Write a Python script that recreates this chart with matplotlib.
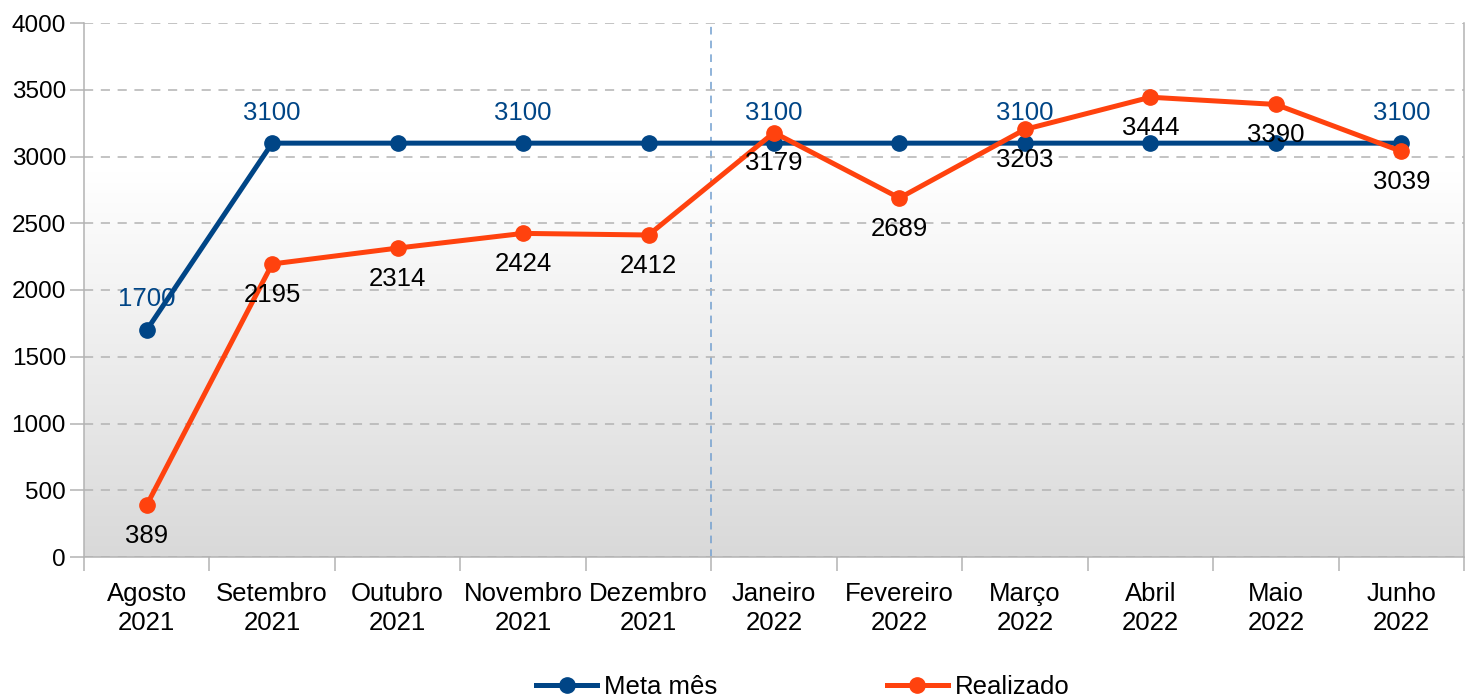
import numpy as np
import matplotlib
matplotlib.use('Agg')
import matplotlib.pyplot as plt
from matplotlib.colors import LinearSegmentedColormap

plt.rcParams['font.family'] = ['Liberation Sans', 'DejaVu Sans']

# Data
months = ['Agosto\n2021', 'Setembro\n2021', 'Outubro\n2021', 'Novembro\n2021', 'Dezembro\n2021',
          'Janeiro\n2022', 'Fevereiro\n2022', 'Março\n2022', 'Abril\n2022', 'Maio\n2022', 'Junho\n2022']
meta = [1700, 3100, 3100, 3100, 3100, 3100, 3100, 3100, 3100, 3100, 3100]
realizado = [389, 2195, 2314, 2424, 2412, 3179, 2689, 3203, 3444, 3390, 3039]
meta_label_idx = [0, 1, 3, 5, 7, 10]

blue = '#004586'
orange = '#ff420e'
grid_gray = '#b3b3b3'

fig = plt.figure(figsize=(14.7, 6.99), dpi=100)
ax = fig.add_axes([84 / 1470, 1 - 557 / 699, 1380 / 1470, 534 / 699])

x = np.arange(len(months))

# gradient background
cmap = LinearSegmentedColormap.from_list('bg', [(0, '#d9d9d9'), (0.72, '#ffffff'), (1, '#ffffff')])
grad = np.linspace(0, 1, 256).reshape(-1, 1)
ax.imshow(grad, aspect='auto', cmap=cmap, origin='lower',
          extent=[-0.5, len(months) - 0.5, 0, 4000], zorder=0)

ax.set_xlim(-0.5, len(months) - 0.5)
ax.set_ylim(0, 4000)

ax.yaxis.grid(True, color=grid_gray, linestyle=(0, (6, 5)), linewidth=1.1, zorder=1)
ax.axvline(4.5, color='#729fcf', linestyle=(0, (5, 4)), linewidth=1.1, zorder=1)

ax.plot(x, meta, color=blue, linewidth=3.6, marker='o', markersize=11, zorder=3, label='Meta mês')
ax.plot(x, realizado, color=orange, linewidth=3.6, marker='o', markersize=11, zorder=4, label='Realizado')

for i in meta_label_idx:
    ax.annotate(str(meta[i]), (x[i], meta[i]), xytext=(0, 22), textcoords='offset points',
                ha='center', va='center', color=blue, fontsize=18.5, zorder=5)
for i, v in enumerate(realizado):
    ax.annotate(str(v), (x[i], v), xytext=(0, -22), textcoords='offset points',
                ha='center', va='center', color='black', fontsize=18.5, zorder=5)

ax.set_yticks(np.arange(0, 4001, 500))
ax.set_xticks(x)
ax.set_xticklabels(months, fontsize=18.5, linespacing=1.27)
ax.set_xticks(np.arange(-0.5, len(months), 1), minor=True)
ax.tick_params(axis='x', which='major', length=0, pad=18)
ax.tick_params(axis='x', which='minor', length=10, color=grid_gray, width=1.1)
ax.tick_params(axis='y', labelsize=17.5, length=10, color=grid_gray, width=1.1, pad=3)

for side in ['left', 'bottom', 'right']:
    ax.spines[side].set_color(grid_gray)
    ax.spines[side].set_linewidth(1.1)
ax.spines['top'].set_visible(False)

fig.legend(loc='center', bbox_to_anchor=(0.546, 0.017), ncol=2, frameon=False, fontsize=18.5,
           handlelength=2.4, columnspacing=6.6, handletextpad=0.25)

fig.savefig('out.png', dpi=100)
